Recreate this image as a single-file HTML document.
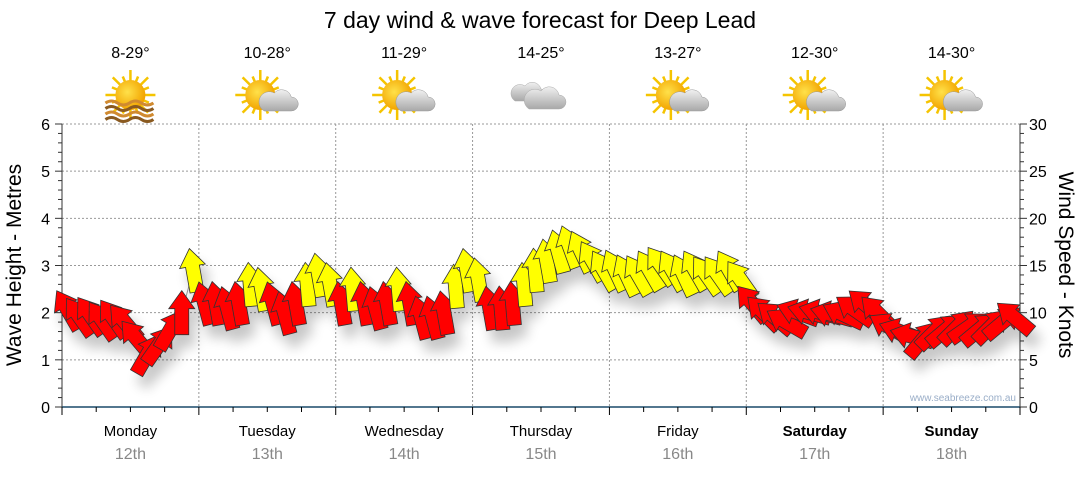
<!DOCTYPE html>
<html><head><meta charset="utf-8">
<style>
body{margin:0;background:#fff;}
svg text{font-family:"Liberation Sans",sans-serif;}
</style></head>
<body>
<svg id="chart" width="1080" height="475" viewBox="0 0 1080 475" xmlns="http://www.w3.org/2000/svg">
<defs>
<filter id="shadow" x="-50%" y="-50%" width="200%" height="200%">
<feGaussianBlur in="SourceAlpha" stdDeviation="6"/>
<feOffset dx="6" dy="12"/>
<feComponentTransfer><feFuncA type="linear" slope="0.22"/></feComponentTransfer>
<feMerge><feMergeNode/><feMergeNode in="SourceGraphic"/></feMerge>
</filter>
<radialGradient id="sunG" cx="0.4" cy="0.4" r="0.6"><stop offset="0" stop-color="#ffe14a"/><stop offset="1" stop-color="#f2a400"/></radialGradient>
<linearGradient id="cloudG" x1="0" y1="0" x2="0" y2="1"><stop offset="0" stop-color="#f0f0f0"/><stop offset="1" stop-color="#a8a8a8"/></linearGradient>
</defs>
<text x="540" y="28" font-size="23" text-anchor="middle" fill="#000">7 day wind &amp; wave forecast for Deep Lead</text>
<g id="grid"></g>
<g id="axes"></g>
<g id="header"></g>
<g id="arrows"></g>
<text x="1016" y="401" font-size="10" text-anchor="end" fill="#9aaec8">www.seabreeze.com.au</text>
<text transform="translate(21,265) rotate(-90)" font-size="21" text-anchor="middle">Wave Height - Metres</text>
<text transform="translate(1059,265) rotate(90)" font-size="21" text-anchor="middle">Wind Speed - Knots</text>
</svg>
<script>
const days=["Monday","Tuesday","Wednesday","Thursday","Friday","Saturday","Sunday"];
const dates=["12th","13th","14th","15th","16th","17th","18th"];
const temps=["8-29°","10-28°","11-29°","14-25°","13-27°","12-30°","14-30°"];
const icons=["sun-haze","sun-cloud","sun-cloud","cloud","sun-cloud","sun-cloud","sun-cloud"];
const leftTicks=[0,1,2,3,4,5,6];
const rightTicks=[0,5,10,15,20,25,30];
// wind speed (knots), every 2 hours, 12 per day
const windSpeed=[
10.3,9.6,9.7,9.2,9.4,9.0,7.3,5.6,6.6,8.2,10.0,14.5,
11,11,10.5,11,13,12.5,11,10,11,13,14,13,
11,12.5,11,10.5,11,12.5,11,9.5,9.5,10,12.8,14.5,
13.5,10.5,10.5,11,13,14.5,15.5,16.5,17,16.5,15.5,14.5,
14.5,14,14,14.5,15,14.5,14,14.5,14,14,14.5,13.5,
11,10,9.5,9,10,10,10,9.8,9.8,10.3,10.8,10,
8.5,8,7.5,7.2,8,8.2,8.5,8.5,8.3,8.6,9,9.5];
// arrow direction (degrees clockwise from north/up)
const windDir=[
-30,-35,-35,-35,-35,-40,-40,30,35,30,0,-10,
-15,-10,-15,-10,-5,-10,-15,-15,-10,-5,-10,-10,
-10,-5,-10,-15,-10,-5,-10,-15,-15,-10,-5,-10,
-10,-10,-5,-5,-5,-5,-10,-15,-20,-25,-30,-30,
-25,-25,-30,-30,-35,-30,-25,-30,-35,-35,-30,-35,
-40,-45,-50,-60,-70,-75,-75,-75,-65,-55,-50,-45,
-60,-70,-75,40,45,50,45,55,50,45,50,-50];
const NS="http://www.w3.org/2000/svg";
const X0=62,X1=1020,Y0=407,YT=124;
function xAt(i){return X0+(i+0.5)*(X1-X0)/windSpeed.length;}
function yM(m){return Y0-(Y0-YT)*m/6;}
function yK(k){return Y0-(Y0-YT)*k/30;}
const dayW=(X1-X0)/7;
function mk(tag,attrs,parent){const e=document.createElementNS(NS,tag);for(const k in attrs)e.setAttribute(k,attrs[k]);parent.appendChild(e);return e;}
const grid=document.getElementById('grid'),axes=document.getElementById('axes'),header=document.getElementById('header'),arrows=document.getElementById('arrows');
leftTicks.forEach(t=>{
  if(t>0){const l=mk('line',{x1:X0,x2:X1,y1:yM(t),y2:yM(t),stroke:'#999','stroke-dasharray':'2,2','stroke-width':1},grid);
  
  }
  const tx=mk('text',{x:50,y:yM(t)+6,'font-size':16,'text-anchor':'end'},axes);tx.textContent=t;
  
  
});
for(let m=0;m<=30;m++){const y=Y0-(Y0-YT)*m/30;mk('line',{x1:m%5==0?55:58,x2:62,y1:y,y2:y,stroke:'#333'},axes);}
rightTicks.forEach(t=>{
  const tx=mk('text',{x:1029,y:yK(t)+6,'font-size':16},axes);tx.textContent=t;
  
  
});
for(let k=0;k<=30;k++){const y=yK(k);mk('line',{x1:1020,x2:k%5==0?1027:1024,y1:y,y2:y,stroke:'#333'},axes);}
mk('line',{x1:X0,x2:X0,y1:YT,y2:Y0,stroke:'#333'},axes);
mk('line',{x1:X1,x2:X1,y1:YT,y2:Y0,stroke:'#333'},axes);
mk('line',{x1:X0,x2:X1,y1:Y0,y2:Y0,stroke:'#1a4a6a','stroke-width':1.5},axes);
for(let d=0;d<=7;d++){const x=X0+d*dayW;
  if(d>0&&d<7)mk('line',{x1:x,x2:x,y1:YT,y2:Y0,stroke:'#999','stroke-dasharray':'2,2'},grid);
  mk('line',{x1:x,x2:x,y1:Y0,y2:Y0+8,stroke:'#000'},axes);
  if(d<7)for(let q=1;q<4;q++){const xx=x+q*dayW/4;mk('line',{x1:xx,x2:xx,y1:Y0,y2:Y0+5,stroke:'#000'},axes);}
}
days.forEach((d,i)=>{
  const cx=X0+(i+0.5)*dayW;
  const t=mk('text',{x:cx,y:436,'font-size':15,'text-anchor':'middle','font-weight':i>=5?'bold':'normal'},axes);t.textContent=d;
  
  
  const t2=mk('text',{x:cx,y:459,'font-size':16,'text-anchor':'middle',fill:'#888'},axes);t2.textContent=dates[i];
  
  
  const t3=mk('text',{x:cx,y:58,'font-size':16,'text-anchor':'middle'},header);t3.textContent=temps[i];
  
  
  const g=mk('g',{transform:`translate(${cx},97)`},header);
  
  
  if(icons[i]!=='cloud'){
    const sx=icons[i]==='sun-haze'?0:-7;
    for(let r=0;r<16;r++){const a=r*Math.PI/8;const L=r%2?20:25;
      mk('line',{x1:sx+Math.cos(a)*12,y1:Math.sin(a)*12-2,x2:sx+Math.cos(a)*L,y2:Math.sin(a)*L-2,stroke:'#f5c400','stroke-width':2.5},g);}
    mk('circle',{cx:sx,cy:-2,r:15,fill:'url(#sunG)'},g);
  }
  if(icons[i]==='sun-haze'){
    for(let w=0;w<4;w++){const y=6+w*5.5;
      mk('path',{d:`M-25 ${y} q6 -4 12 0 t12 0 t12 0 t12 0`,stroke:w%2?'#8a5a20':'#d08a30','stroke-width':3,fill:'none'},g);}
  }else if(icons[i]==='sun-cloud'){
    mk('path',{d:'M-3 14 h27 a7 7 0 0 0 0 -14 a10 10 0 0 0 -17 -4 a8 8 0 0 0 -10 18 z',fill:'url(#cloudG)',stroke:'#999','stroke-width':0.5},g);
  }else{
    mk('path',{d:'M-26 4 h26 a6 6 0 0 0 0 -12 a9 9 0 0 0 -16 -3 a7 7 0 0 0 -10 15 z',fill:'url(#cloudG)',stroke:'#aaa','stroke-width':0.5},g);
    mk('path',{d:'M-12 12 h30 a7 7 0 0 0 0 -14 a10 10 0 0 0 -18 -4 a8 8 0 0 0 -12 18 z',fill:'url(#cloudG)',stroke:'#aaa','stroke-width':0.5},g);
  }
});
let pts=windSpeed.map((v,i)=>xAt(i)+','+yK(v)).join(' ');
const pl=mk('polyline',{points:pts,fill:'none',stroke:'#999','stroke-width':1},arrows);


const ag=mk('g',{filter:'url(#shadow)'},arrows);
windSpeed.forEach((v,i)=>{
  const p=mk('path',{d:'M0 -22 L13 -4 L7 -4 L7 22 L-7 22 L-7 -4 L-13 -4 Z',
    transform:`translate(${xAt(i)},${yK(v)}) rotate(${windDir[i]})`,
    fill:v>=12.5?'#ffff00':'#ff0000',stroke:'#333','stroke-width':0.8},ag);
  
  
});
</script>
</body></html>
